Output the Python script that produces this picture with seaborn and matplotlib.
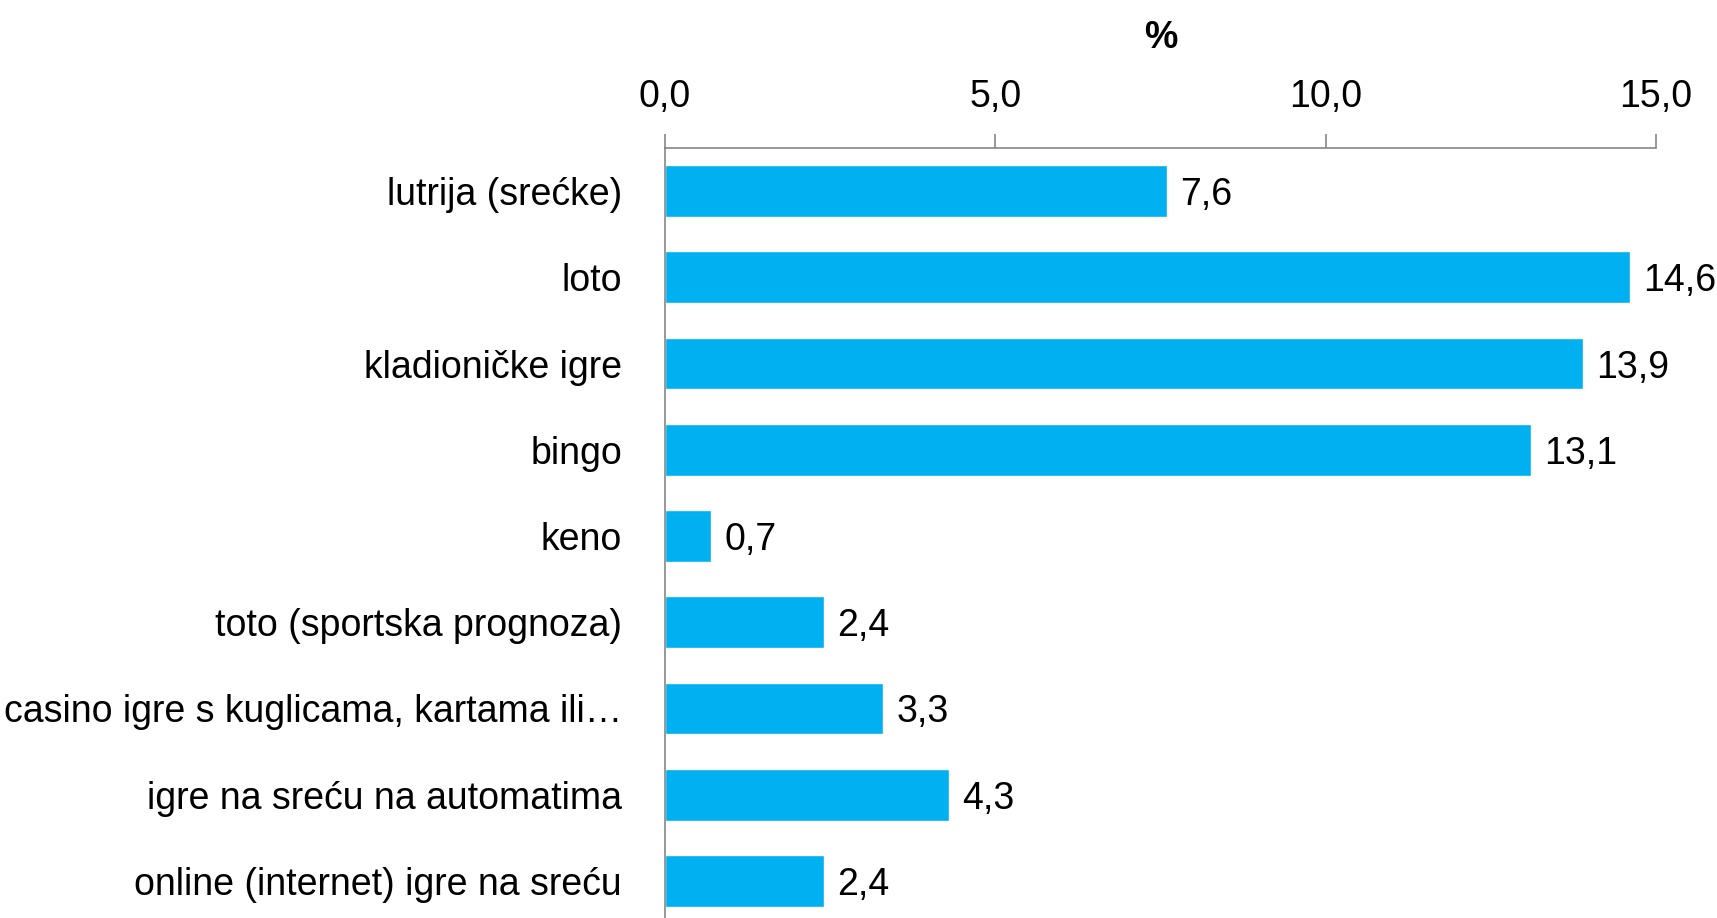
import pandas as pd
import matplotlib
matplotlib.use('Agg')
import matplotlib.pyplot as plt
import seaborn as sns

# data
categories = [
    'lutrija (srećke)',
    'loto',
    'kladioničke igre',
    'bingo',
    'keno',
    'toto (sportska prognoza)',
    'casino igre s kuglicama, kartama ili…',
    'igre na sreću na automatima',
    'online (internet) igre na sreću',
]
values = [7.6, 14.6, 13.9, 13.1, 0.7, 2.4, 3.3, 4.3, 2.4]
x_ticks = [0, 5, 10, 15]
x_tick_labels = ['0,0', '5,0', '10,0', '15,0']
axis_title = '%'

df = pd.DataFrame({'kategorija': categories, 'vrijednost': values})

sns.set_style('white')
plt.rcParams['font.family'] = ['Liberation Sans', 'DejaVu Sans']
plt.rcParams['text.color'] = 'black'
plt.rcParams['xtick.color'] = 'black'
plt.rcParams['ytick.color'] = 'black'

fig = plt.figure(figsize=(17.17, 9.18), dpi=100)
ax = fig.add_axes([0.3873, -0.0066, 0.5772, 0.8454])

sns.barplot(data=df, x='vrijednost', y='kategorija', orient='h',
            color='#00B0F0', saturation=1, width=0.6, ax=ax)

ax.set_xlim(0, 15)
ax.set_ylim(len(categories) - 0.5, -0.5)

# x axis on top
ax.xaxis.tick_top()
ax.xaxis.set_label_position('top')
ax.set_xticks(x_ticks)
ax.set_xticklabels(x_tick_labels, fontsize=27)
ax.tick_params(axis='x', length=10, width=1.2, color='#868686', labelcolor='black', pad=14)
ax.set_xlabel(axis_title, fontsize=27, fontweight='bold', labelpad=22, color='black')
ax.set_ylabel('')

# category labels, ticks between categories
ax.tick_params(axis='y', which='major', length=0, pad=31, labelsize=27, labelcolor='black')
ax.set_yticks([i - 0.5 for i in range(len(categories) + 1)], minor=True)
ax.tick_params(axis='y', which='minor', length=11, width=1.2, color='#868686')

for side in ['right', 'bottom']:
    ax.spines[side].set_visible(False)
for side in ['top', 'left']:
    ax.spines[side].set_color('#868686')
    ax.spines[side].set_linewidth(1.2)

# value labels
for i, v in enumerate(values):
    ax.text(v + 0.2, i, f'{v:.1f}'.replace('.', ','), va='center_baseline',
            ha='left', fontsize=27, color='black')

fig.savefig('out.png', dpi=100)
